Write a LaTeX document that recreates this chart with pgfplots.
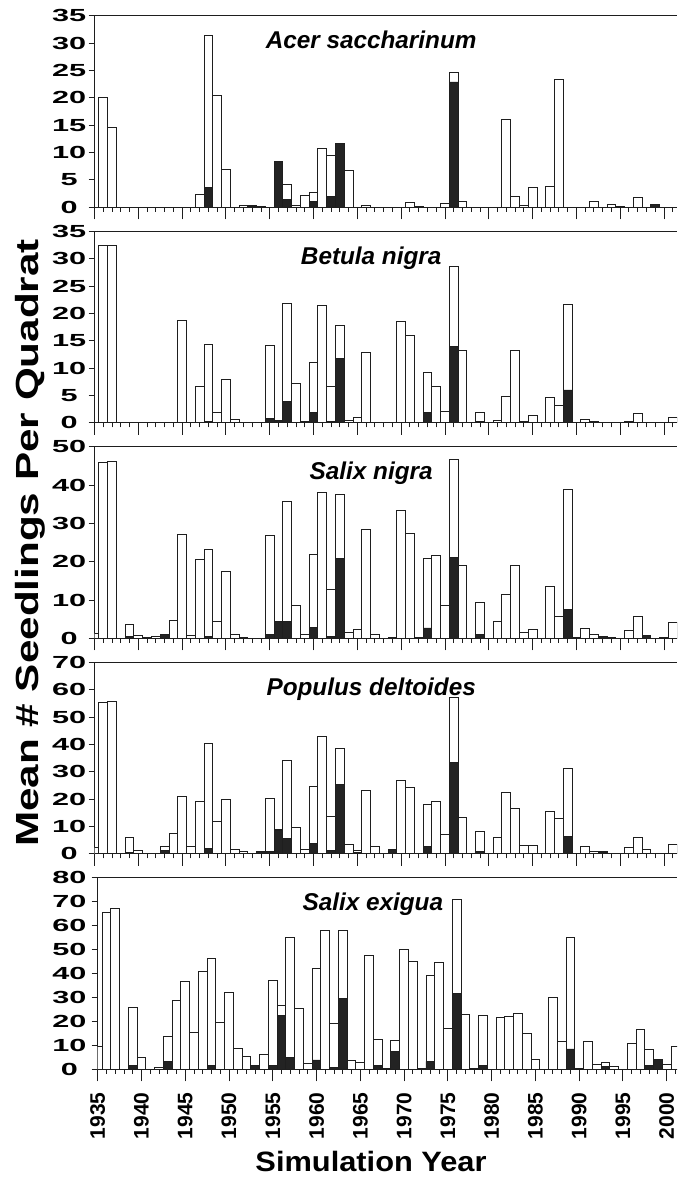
\documentclass[border=0pt]{standalone}
\usepackage{fontspec}
\setmainfont{Liberation Sans}
\usepackage{graphicx}
\usepackage{pgfplots}
\pgfplotsset{compat=1.18}

\definecolor{ink}{RGB}{30,30,30}
\definecolor{barblack}{RGB}{35,35,35}

\pgfplotsset{
  panel/.style={
    scale only axis, width=582.5pt, height=191.5pt,
    anchor=south west,
    xmin=1935, xmax=2001.48, ymin=0,
    axis x line*=bottom, axis y line*=left,
    axis line style={ink, line width=0.9pt},
    tick align=outside,
    xtick={1935,1940,...,2000}, minor xtick={1935,...,2001},
    x tick style={ink, line width=0.9pt, /pgfplots/major tick length=12pt, /pgfplots/minor tick length=4.5pt},
    y tick style={ink, line width=0.9pt, /pgfplots/major tick length=6pt},
    /pgf/number format/assume math mode=true,
    yticklabel={\scalebox{1.75}[1]{\pgfmathprintnumber{\tick}}},
    yticklabel style={font=\fontsize{17.5}{18}\selectfont\bfseries, anchor=center, xshift=-21pt},
    ybar, bar width=1,
  },
  tot/.style={fill=white, draw=ink, line width=0.9pt, bar shift=0pt},
  blk/.style={fill=barblack, draw=ink, line width=0.9pt, bar shift=0pt},
}
\newcommand{\paneltitle}[1]{%
  \node[anchor=base, font=\fontsize{24.3}{28}\selectfont\bfseries\itshape]
    at (rel axis cs:0.475,0.828) {#1};
  \draw[ink, line width=0.9pt] (rel axis cs:0,1) -- (rel axis cs:1,1);}

\begin{document}
\begin{tikzpicture}
\useasboundingbox (0pt,0pt) rectangle (677pt,1177pt);

% Acer saccharinum
\begin{axis}[panel, at={(94.5pt,969.7pt)}, ymax=35, ytick={0,5,...,35}, xticklabels={}]
\addplot[tot] coordinates {(1936,20.0) (1937,14.6) (1947,2.4) (1948,31.4) (1949,20.4) (1950,7.0)
 (1952,0.3) (1953,0.3) (1954,0.2) (1956,8.4) (1957,4.1) (1958,0.4) (1959,2.2) (1960,2.8)
 (1961,10.8) (1962,9.5) (1963,11.7) (1964,6.7) (1966,0.4) (1971,0.8) (1972,0.2) (1975,0.7)
 (1976,24.6) (1977,1.0) (1982,16.1) (1983,2.0) (1984,0.3) (1985,3.6) (1987,3.8) (1988,23.4)
 (1992,1.1) (1994,0.5) (1995,0.2) (1997,1.8) (1999,0.6)};
\addplot[blk] coordinates {(1948,3.6) (1953,0.2) (1956,8.4) (1957,1.5) (1960,1.1) (1962,2.0)
 (1963,11.6) (1976,22.9) (1999,0.6)};
\paneltitle{Acer saccharinum}
\end{axis}

% Betula nigra
\begin{axis}[panel, at={(94.5pt,754.2pt)}, ymax=35, ytick={0,5,...,35}, xticklabels={}]
\addplot[tot] coordinates {(1936,32.4) (1937,32.4) (1942,0.1) (1945,18.7) (1947,6.6) (1948,14.3)
 (1949,1.9) (1950,7.85) (1951,0.7) (1955,14.1) (1956,0.4) (1957,21.9) (1958,7.1) (1959,0.3)
 (1960,11.0) (1961,21.4) (1962,6.6) (1963,17.8) (1964,0.4) (1965,0.95) (1966,12.9) (1970,18.6)
 (1971,16.0) (1973,9.25) (1974,6.6) (1975,2.1) (1976,28.6) (1977,13.3) (1979,1.8) (1981,0.5)
 (1982,4.9) (1983,13.2) (1984,0.3) (1985,1.3) (1987,4.6) (1988,3.1) (1989,21.6) (1991,0.7)
 (1992,0.2) (1996,0.2) (1997,1.7) (2001,0.9)};
\addplot[blk] coordinates {(1948,0.2) (1955,0.8) (1956,0.4) (1957,3.95) (1960,1.95) (1962,0.3)
 (1963,11.75) (1973,1.95) (1976,14.0) (1979,0.3) (1989,6.0)};
\paneltitle{Betula nigra}
\end{axis}

% Salix nigra
\begin{axis}[panel, at={(94.5pt,538.7pt)}, ymax=50, ytick={0,10,...,50}, xticklabels={}]
\addplot[tot] coordinates {(1935,1.3) (1936,45.8) (1937,46.2) (1939,3.7) (1940,0.7) (1941,0.3)
 (1942,0.4) (1943,1.0) (1944,4.6) (1945,27.1) (1946,0.7) (1947,20.7) (1948,23.1) (1949,4.45)
 (1950,17.45) (1951,1.0) (1952,0.3) (1955,26.9) (1956,4.4) (1957,35.6) (1958,8.5) (1959,1.1)
 (1960,21.8) (1961,38.0) (1962,12.8) (1963,37.6) (1964,1.65) (1965,2.3) (1966,28.4) (1967,1.0)
 (1969,0.3) (1970,33.4) (1971,27.4) (1972,0.3) (1973,20.8) (1974,21.6) (1975,8.6) (1976,46.7)
 (1977,18.9) (1979,9.3) (1981,4.45) (1982,11.5) (1983,18.9) (1984,1.5) (1985,2.35) (1987,13.6)
 (1988,5.6) (1989,38.8) (1990,0.2) (1991,2.45) (1992,1.1) (1993,0.4) (1994,0.2) (1996,2.0)
 (1997,5.75) (1998,0.7) (2000,0.3) (2001,4.1)};
\addplot[blk] coordinates {(1939,0.5) (1943,0.9) (1948,0.4) (1955,1.1) (1956,4.4) (1957,4.45)
 (1960,2.9) (1962,0.4) (1963,20.9) (1973,2.7) (1976,21.1) (1979,1.0) (1989,7.5) (1993,0.4)
 (1998,0.7)};
\paneltitle{Salix nigra}
\end{axis}

% Populus deltoides
\begin{axis}[panel, at={(94.5pt,323.2pt)}, ymax=70, ytick={0,10,...,70}, xticklabels={}]
\addplot[tot] coordinates {(1935,2.3) (1936,55.2) (1937,55.7) (1939,6.1) (1940,1.1) (1943,2.55)
 (1944,7.4) (1945,20.8) (1946,2.55) (1947,19.0) (1948,40.2) (1949,11.7) (1950,20.0) (1951,1.7)
 (1952,0.85) (1953,0.3) (1954,0.85) (1955,20.3) (1956,8.8) (1957,34.1) (1958,9.5) (1959,1.7)
 (1960,24.6) (1961,42.9) (1962,13.6) (1963,38.6) (1964,3.4) (1965,1.2) (1966,23.0) (1967,2.7)
 (1969,1.6) (1970,26.8) (1971,24.4) (1973,18.0) (1974,19.2) (1975,7.1) (1976,57.1) (1977,13.3)
 (1979,8.3) (1981,6.0) (1982,22.4) (1983,16.6) (1984,3.2) (1985,3.2) (1987,15.5) (1988,12.9)
 (1989,31.1) (1991,2.7) (1992,0.85) (1993,0.8) (1996,2.4) (1997,6.0) (1998,1.6) (2000,0.3)
 (2001,3.5)};
\addplot[blk] coordinates {(1939,0.6) (1943,1.1) (1948,2.1) (1954,0.85) (1955,0.85) (1956,8.5)
 (1957,5.7) (1960,3.65) (1962,1.1) (1963,25.2) (1965,0.5) (1969,1.6) (1973,2.55) (1976,33.4)
 (1979,1.0) (1989,6.3) (1993,0.6)};
\paneltitle{Populus deltoides}
\end{axis}

% Salix exigua
\begin{axis}[panel, at={(97.7pt,107.7pt)}, width=579.3pt, xmax=2001.18, ymax=80, ytick={0,10,...,80},
  yticklabel style={xshift=-3pt},
  xticklabel={\pgfmathprintnumber[1000 sep={}]{\tick}},
  xticklabel style={yshift=-15.5pt, rotate=90, anchor=east, font=\fontsize{21}{22}\selectfont\bfseries}]
\addplot[tot] coordinates {(1935,9.5) (1936,65.6) (1937,67.0) (1939,26.0) (1940,4.75) (1942,0.85)
 (1943,13.7) (1944,28.6) (1945,36.7) (1946,15.6) (1947,40.9) (1948,46.5) (1949,19.55) (1950,32.1)
 (1951,8.7) (1952,5.45) (1953,1.7) (1954,6.4) (1955,37.3) (1956,26.5) (1957,55.2) (1958,25.4)
 (1959,2.5) (1960,42.2) (1961,58.1) (1962,19.0) (1963,58.2) (1964,3.6) (1965,2.8) (1966,47.6)
 (1967,12.4) (1968,0.5) (1969,12.15) (1970,50.1) (1971,45.25) (1972,0.3) (1973,39.2) (1974,44.55)
 (1975,16.9) (1976,70.8) (1977,22.9) (1978,0.3) (1979,22.6) (1981,21.6) (1982,22.2) (1983,23.3)
 (1984,15.0) (1985,4.05) (1987,30.2) (1988,11.7) (1989,55.0) (1990,0.3) (1991,11.6) (1992,2.1)
 (1993,2.9) (1994,1.25) (1996,10.9) (1997,16.8) (1998,8.4) (1999,4.3) (2000,2.2) (2001,9.6)};
\addplot[blk] coordinates {(1939,1.7) (1943,3.35) (1948,1.5) (1953,1.7) (1955,1.4) (1956,22.3)
 (1957,5.0) (1960,3.9) (1962,0.85) (1963,29.5) (1967,1.4) (1969,7.4) (1972,0.3) (1973,3.35)
 (1976,31.7) (1979,1.7) (1989,8.5) (1993,1.1) (1998,1.7) (1999,4.3)};
\paneltitle{Salix exigua}
\end{axis}

\node[rotate=90, font=\fontsize{32}{34}\selectfont\bfseries] at (30pt,634pt)
  {\scalebox{1.32}[1]{Mean \# Seedlings Per Quadrat}};
\node[font=\fontsize{28}{30}\selectfont\bfseries] at (371pt,16pt)
  {\scalebox{1.1}[1]{Simulation Year}};
\end{tikzpicture}
\end{document}
